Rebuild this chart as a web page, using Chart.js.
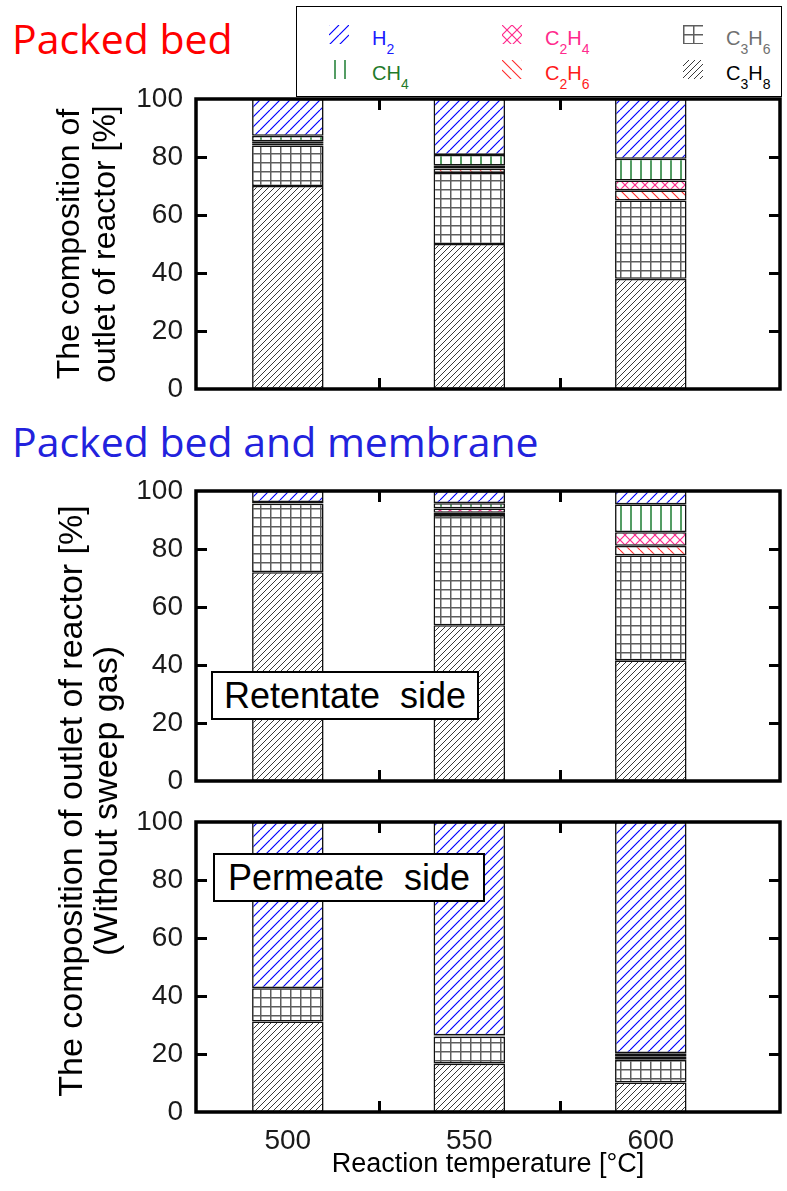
<!DOCTYPE html>
<html>
<head>
<meta charset="utf-8">
<script src="https://cdn.jsdelivr.net/npm/chart.js@4.4.1/dist/chart.umd.min.js"></script>
<style>
  html, body { margin: 0; padding: 0; background: #fff; }
  #page { position: relative; width: 787px; height: 1191px; overflow: hidden;
          font-family: 'Liberation Sans', Arial, sans-serif; }
  canvas.panel { position: absolute; left: 0; }
  .heading { position: absolute; left: 12px; font-family: 'Open Sans', 'Noto Sans', sans-serif;
             font-size: 41px; line-height: 41px; white-space: nowrap; }
  .note { position: absolute; box-sizing: border-box; background: #fff; border: 2px solid #000;
          font-size: 36px; line-height: 45px; text-align: center; white-space: pre; color: #000; }
  #legend { position: absolute; left: 296px; top: 6px; width: 486px; height: 91px;
            box-sizing: border-box; border: 1.5px solid #000; background: #fff; }
  .lg-item { position: absolute; height: 40px; }
  .lg-item canvas { position: absolute; left: 0; top: 6px; }
  .lg-item span.name { position: absolute; top: 9px; font-size: 20px; line-height: 20px; white-space: nowrap; }
  .lg-item sub { font-size: 14px; vertical-align: -9px; line-height: 0; }
  .ytitle { position: absolute; font-size: 34px; line-height: 35px; text-align: center;
            white-space: nowrap; color: #000; transform: rotate(-90deg); transform-origin: 50% 50%; }
</style>
</head>
<body>
<div id="page">
  <div class="heading" style="top:18px;color:#ff0000;">Packed bed</div>
  <div class="heading" style="top:421px;color:#2222dd;">Packed bed and membrane</div>

  <canvas id="bed" class="panel" width="787" height="440" style="top:0px"></canvas>
  <canvas id="retentate" class="panel" width="787" height="440" style="top:400px"></canvas>
  <canvas id="permeate" class="panel" width="787" height="401" style="top:790px"></canvas>

  <div id="legend"></div>

  <div class="note" style="left:211px;top:671px;width:268px;height:49px;">Retentate  side</div>
  <div class="note" style="left:213px;top:853px;width:272px;height:49px;">Permeate  side</div>

  <div class="ytitle" style="left:-247px;top:766px;width:670px;height:70px;">The composition of outlet of reactor [%]<br>(Without sweep gas)</div>
</div>

<script>
// Reaction temperatures, °C
const temperatures = [500, 550, 600];

// Packed bed reactor outlet composition, %
const bedC3H8 = [70.0, 50.0, 38.0];
const bedC3H6 = [14.0, 24.5, 27.0];
const bedC2H6 = [0.6, 1.5, 3.5];
const bedC2H4 = [0.8, 1.0, 3.4];
const bedCH4  = [1.9, 3.7, 7.5];
const bedH2   = [12.7, 19.3, 20.6];

// Packed bed + membrane, retentate side, %
const retC3H8 = [72.0, 53.7, 41.6];
const retC3H6 = [23.6, 38.0, 36.2];
const retC2H6 = [0.2, 0.8, 3.3];
const retC2H4 = [0.1, 1.5, 4.7];
const retCH4  = [0.3, 1.8, 9.6];
const retH2   = [3.8, 4.2, 4.6];

// Packed bed + membrane, permeate side, %
const perC3H8 = [31.2, 16.7, 10.2];
const perC3H6 = [11.5, 9.3, 7.8];
const perC2H6 = [0.0, 0.1, 0.6];
const perC2H4 = [0.0, 0.1, 0.6];
const perCH4  = [0.0, 0.2, 1.1];
const perH2   = [57.3, 73.6, 79.7];

// Axis ticks
const yTickValues = [0, 20, 40, 60, 80, 100];
const xTickValues = [500, 550, 600];
const xInnerMarks = [525, 575];

// Hatch tiles -------------------------------------------------------------
function tile(w, h, draw) {
  const c = document.createElement('canvas');
  c.width = w; c.height = h;
  const g = c.getContext('2d');
  g.fillStyle = '#fff';
  g.fillRect(0, 0, w, h);
  draw(g, w, h);
  return c;
}
function slashes(g, s, dir) {
  g.beginPath();
  for (let k = -1; k <= 1; k++) {
    if (dir > 0) { g.moveTo(k * s, s); g.lineTo(k * s + s, 0); }
    else { g.moveTo(k * s, 0); g.lineTo(k * s + s, s); }
  }
  g.stroke();
}
const hatchTiles = {
  H2: tile(10, 10, (g, s) => { g.strokeStyle = '#0000ff'; g.lineWidth = 1.2; slashes(g, s, 1); }),
  CH4: tile(10, 10, (g) => {
    g.strokeStyle = '#1b7d30'; g.lineWidth = 1.5;
    g.beginPath(); g.moveTo(1, 0); g.lineTo(1, 10); g.stroke();
  }),
  C2H4: tile(10, 10, (g, s) => {
    g.strokeStyle = '#ff2a8c'; g.lineWidth = 1.2; slashes(g, s, 1); slashes(g, s, -1);
  }),
  C2H6: tile(10, 10, (g, s) => { g.strokeStyle = '#ff2a2a'; g.lineWidth = 1.1; slashes(g, s, -1); }),
  C3H6: tile(10, 9, (g) => {
    g.strokeStyle = '#5e5e5e'; g.lineWidth = 1.5;
    g.beginPath();
    g.moveTo(0.75, 0); g.lineTo(0.75, 9);
    g.moveTo(0, 0.75); g.lineTo(10, 0.75);
    g.stroke();
  }),
  C3H8: tile(6, 6, (g, s) => { g.strokeStyle = '#3a3a3a'; g.lineWidth = 1; slashes(g, s, 1); })
};
function patternFor(key, ctx) { return ctx.createPattern(hatchTiles[key], 'repeat'); }

// Stack order, bottom → top
const speciesOrder = ['C3H8', 'C3H6', 'C2H6', 'C2H4', 'CH4', 'H2'];
const speciesLabel = {
  H2: 'H<sub>2</sub>', CH4: 'CH<sub>4</sub>', C2H4: 'C<sub>2</sub>H<sub>4</sub>',
  C2H6: 'C<sub>2</sub>H<sub>6</sub>', C3H6: 'C<sub>3</sub>H<sub>6</sub>', C3H8: 'C<sub>3</sub>H<sub>8</sub>'
};
const speciesColor = {
  H2: '#1a1aff', CH4: '#1f7a2a', C2H4: '#ff2a8c', C2H6: '#ff1a1a', C3H6: '#707070', C3H8: '#000000'
};
const legendLayout = [
  ['H2', 0, 0], ['C2H4', 1, 0], ['C3H6', 2, 0],
  ['CH4', 0, 1], ['C2H6', 1, 1], ['C3H8', 2, 1]
];
const legendCols = [32, 205, 386];
const legendRows = [12, 47];

(function buildLegend() {
  const box = document.getElementById('legend');
  legendLayout.forEach(([key, col, row]) => {
    const item = document.createElement('div');
    item.className = 'lg-item';
    item.style.left = legendCols[col] + 'px';
    item.style.top = legendRows[row] + 'px';
    const sw = document.createElement('canvas');
    const w = key === 'CH4' ? 14 : 20;
    sw.width = w; sw.height = 19;
    sw.style.left = (key === 'CH4' ? 5 : 0) + 'px';
    const g = sw.getContext('2d');
    g.fillStyle = g.createPattern(hatchTiles[key], 'repeat');
    g.fillRect(0, 0, w, 19);
    item.appendChild(sw);
    const name = document.createElement('span');
    name.className = 'name';
    name.style.left = '43px';
    name.style.color = speciesColor[key];
    name.innerHTML = speciesLabel[key];
    item.appendChild(name);
    box.appendChild(item);
  });
})();

// Frame and inward tick marks around each plot area
const framePlugin = {
  id: 'frame',
  afterDatasetsDraw(chart) {
    const { ctx, chartArea: a, scales: { x, y } } = chart;
    ctx.save();
    ctx.strokeStyle = '#000';
    ctx.lineWidth = 3.5;
    ctx.strokeRect(a.left, a.top, a.right - a.left, a.bottom - a.top);
    ctx.lineWidth = 3;
    ctx.beginPath();
    yTickValues.slice(1, -1).forEach(v => {
      const py = Math.round(y.getPixelForValue(v)) + 0.5;
      ctx.moveTo(a.left, py); ctx.lineTo(a.left + 11, py);
      ctx.moveTo(a.right, py); ctx.lineTo(a.right - 11, py);
    });
    xInnerMarks.forEach(v => {
      const px = Math.round(x.getPixelForValue(v)) + 0.5;
      ctx.moveTo(px, a.bottom); ctx.lineTo(px, a.bottom - 11);
      ctx.moveTo(px, a.top); ctx.lineTo(px, a.top + 11);
    });
    ctx.stroke();
    ctx.restore();
  }
};

function makePanel(id, series, cfg) {
  const canvas = document.getElementById(id);
  const ctx = canvas.getContext('2d');
  const datasets = speciesOrder.map(key => ({
    label: key,
    data: temperatures.map((t, i) => ({ x: t, y: series[key][i] })),
    backgroundColor: patternFor(key, ctx),
    borderColor: '#111111',
    borderWidth: 1.6,
    borderSkipped: false,
    barPercentage: 0.394,
    categoryPercentage: 1.0
  }));
  return new Chart(ctx, {
    type: 'bar',
    data: { datasets },
    options: {
      responsive: false,
      animation: false,
      events: [],
      layout: { padding: { left: 0, right: 7, top: cfg.top, bottom: 0 } },
      plugins: { legend: { display: false }, tooltip: { enabled: false } },
      scales: {
        x: {
          type: 'linear',
          stacked: true,
          offset: false,
          min: 474.7,
          max: 635.6,
          afterBuildTicks: s => { s.ticks = xTickValues.map(v => ({ value: v })); },
          afterFit: s => { s.height = cfg.xHeight; },
          grid: { display: false, drawTicks: false },
          border: { display: false },
          ticks: {
            display: cfg.xLabels,
            padding: 12,
            color: '#1a1a1a',
            font: { family: "'Liberation Sans', Arial, sans-serif", size: 28 }
          },
          title: {
            display: cfg.xLabels,
            text: 'Reaction temperature [°C]',
            color: '#000',
            padding: { top: 0, bottom: 12 },
            font: { family: "'Liberation Sans', Arial, sans-serif", size: 27, lineHeight: 1.1 }
          }
        },
        y: {
          stacked: true,
          min: 0,
          max: 100,
          afterBuildTicks: s => { s.ticks = yTickValues.map(v => ({ value: v })); },
          afterFit: s => { s.width = 196; },
          grid: { display: false, drawTicks: false },
          border: { display: false },
          ticks: {
            padding: 13,
            color: '#1a1a1a',
            font: { family: "'Liberation Sans', Arial, sans-serif", size: 28 }
          },
          title: {
            display: !!cfg.yTitle,
            text: cfg.yTitle || '',
            color: '#000',
            padding: { top: 52, bottom: 0 },
            font: { family: "'Liberation Sans', Arial, sans-serif", size: 32, lineHeight: 1.125 }
          }
        }
      }
    },
    plugins: [framePlugin]
  });
}

makePanel('bed', {
  C3H8: bedC3H8, C3H6: bedC3H6, C2H6: bedC2H6, C2H4: bedC2H4, CH4: bedCH4, H2: bedH2
}, { top: 99, xHeight: 51, xLabels: false, yTitle: ['The composition of', 'outlet of reactor [%]'] });

makePanel('retentate', {
  C3H8: retC3H8, C3H6: retC3H6, C2H6: retC2H6, C2H4: retC2H4, CH4: retCH4, H2: retH2
}, { top: 91, xHeight: 59, xLabels: false });

makePanel('permeate', {
  C3H8: perC3H8, C3H6: perC3H6, C2H6: perC2H6, C2H4: perC2H4, CH4: perCH4, H2: perH2
}, { top: 32, xHeight: 79, xLabels: true });
</script>
</body>
</html>
